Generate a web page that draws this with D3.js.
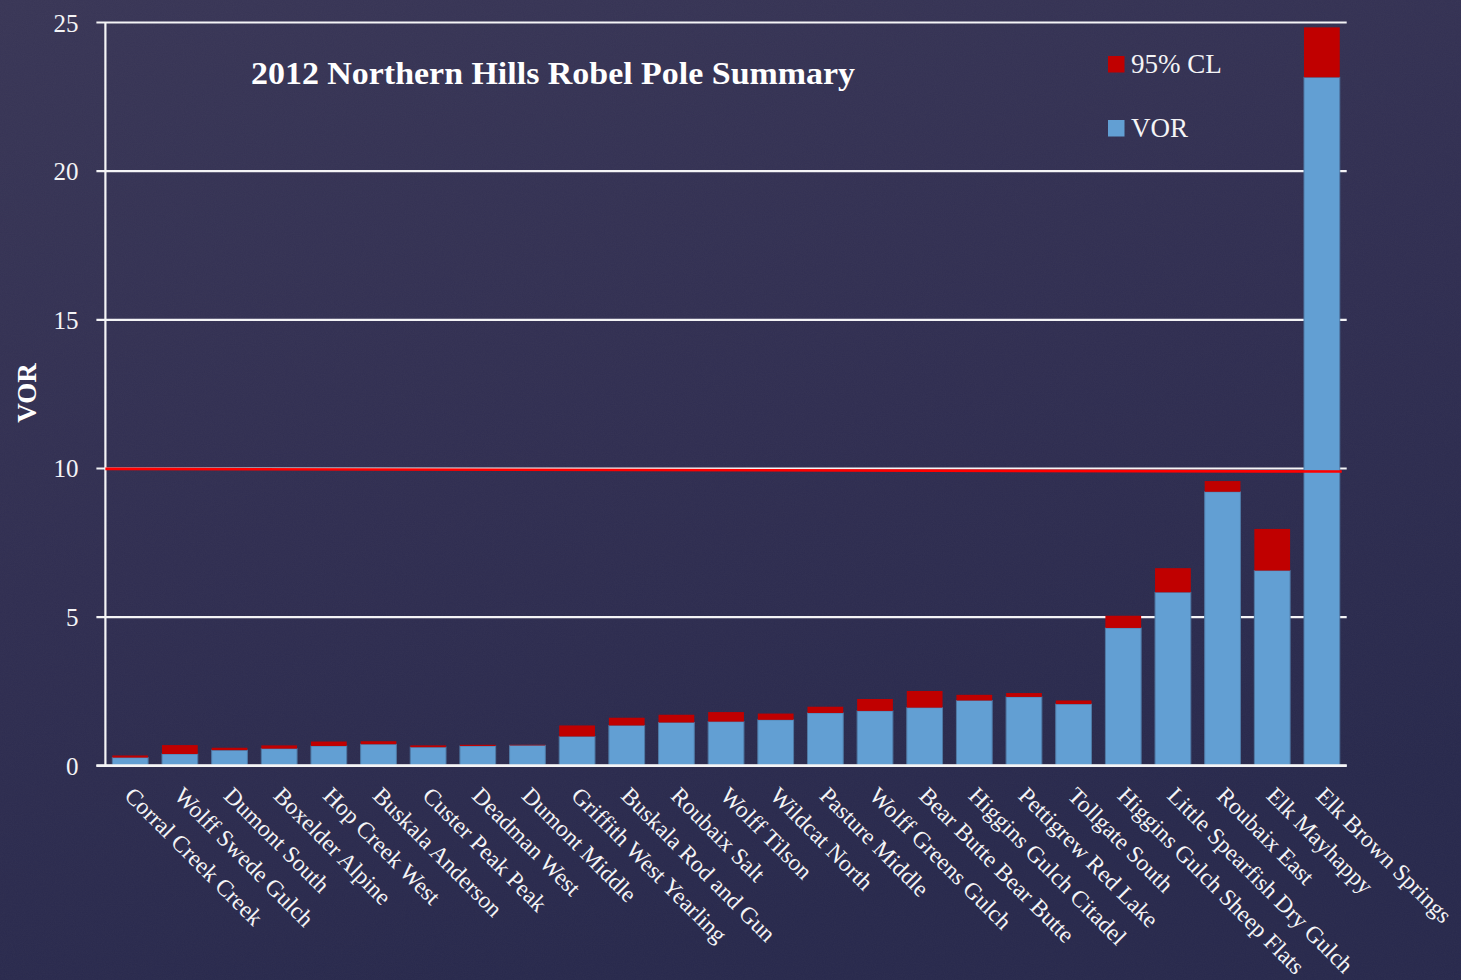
<!DOCTYPE html>
<html>
<head>
<meta charset="utf-8">
<title>2012 Northern Hills Robel Pole Summary</title>
<script src="https://cdn.jsdelivr.net/npm/d3@7/dist/d3.min.js"></script>
<style>
  html, body { margin: 0; padding: 0; background: #2f2d50; }
  svg { display: block; }
</style>
</head>
<body>
<div id="chart"></div>
<script>
// Sites, ordered as plotted
const sites = [
  "Corral Creek Creek", "Wolff Swede Gulch", "Dumont South", "Boxelder Alpine",
  "Hop Creek West", "Buskala Anderson", "Custer Peak Peak", "Deadman West",
  "Dumont Middle", "Griffith West Yearling", "Buskala Rod and Gun", "Roubaix Salt",
  "Wolff Tilson", "Wildcat North", "Pasture Middle", "Wolff Greens Gulch",
  "Bear Butte Bear Butte", "Higgins Gulch Citadel", "Pettigrew Red Lake",
  "Tollgate South", "Higgins Gulch Sheep Flats", "Little Spearfish Dry Gulch",
  "Roubaix East", "Elk Mayhappy", "Elk Brown Springs"
];

// Mean visual obstruction reading per site
const vor = [
  0.26, 0.38, 0.51, 0.56, 0.65, 0.71, 0.61, 0.65, 0.67, 0.97,
  1.34, 1.44, 1.47, 1.53, 1.76, 1.83, 1.94, 2.18, 2.30, 2.06,
  4.62, 5.82, 9.20, 6.55, 23.14
];

// Width of the 95% confidence limit stacked above each VOR bar
const cl95 = [
  0.07, 0.30, 0.08, 0.11, 0.15, 0.10, 0.06, 0.04, 0.02, 0.37,
  0.26, 0.26, 0.32, 0.21, 0.21, 0.40, 0.56, 0.19, 0.13, 0.12,
  0.41, 0.81, 0.36, 1.40, 1.68
];

const yTicks = [0, 5, 10, 15, 20, 25];

// Target line across the chart (value at first and last site)
const targetLine = [9.97, 9.88];

const seriesKeys = ["VOR", "95% CL"];
const seriesColors = { "VOR": "#629fd3", "95% CL": "#c00000" };
const legendOrder = ["95% CL", "VOR"];

const W = 1461, H = 980;
const plot = { left: 105.4, right: 1346.7, top: 22, bottom: 765.3 };

const svg = d3.select("#chart").append("svg")
  .attr("width", W).attr("height", H)
  .attr("viewBox", `0 0 ${W} ${H}`);

const defs = svg.append("defs");

// Slate chalkboard backdrop
const bg = defs.append("linearGradient").attr("id", "bgGrad")
  .attr("x1", "0").attr("y1", "0").attr("x2", "0.35").attr("y2", "1");
bg.append("stop").attr("offset", "0").attr("stop-color", "#393656");
bg.append("stop").attr("offset", "0.55").attr("stop-color", "#302e51");
bg.append("stop").attr("offset", "1").attr("stop-color", "#28294c");

const grain = defs.append("filter").attr("id", "grain")
  .attr("x", 0).attr("y", 0).attr("width", "100%").attr("height", "100%");
grain.append("feTurbulence").attr("type", "fractalNoise")
  .attr("baseFrequency", "0.9").attr("numOctaves", 2).attr("seed", 7).attr("result", "n");
grain.append("feColorMatrix").attr("in", "n").attr("type", "matrix")
  .attr("values", "0 0 0 0 0.85  0 0 0 0 0.85  0 0 0 0 0.95  0 0 0 0.05 0");

svg.append("rect").attr("width", W).attr("height", H).attr("fill", "url(#bgGrad)");
svg.append("rect").attr("width", W).attr("height", H).attr("filter", "url(#grain)").attr("opacity", 0.6);

// Scales
const x = d3.scaleBand()
  .domain(sites)
  .range([plot.left, plot.right])
  .paddingInner(0.28)
  .paddingOuter(0.14);

const y = d3.scaleLinear().domain([0, 25]).range([plot.bottom, plot.top]);

const serif = "'Liberation Serif', 'DejaVu Serif', serif";

// Horizontal gridlines with outward tick stubs
const yAxis = d3.axisLeft(y)
  .tickValues(yTicks)
  .tickSize(-(plot.right - plot.left))
  .tickSizeOuter(0)
  .tickPadding(0)
  .tickFormat(d3.format("d"));

const gy = svg.append("g")
  .attr("transform", `translate(${plot.left},0)`)
  .call(yAxis);
gy.select(".domain").remove();
gy.selectAll(".tick line")
  .attr("x1", -9)
  .attr("stroke", "#f4f4f6")
  .attr("stroke-width", 2.2);
gy.selectAll(".tick text")
  .attr("x", -27)
  .attr("dy", "0.36em")
  .attr("fill", "#f4f4f6")
  .style("font-family", serif)
  .style("font-size", "25px");

// Vertical axis line
svg.append("line")
  .attr("x1", plot.left).attr("x2", plot.left)
  .attr("y1", y(25)).attr("y2", y(0))
  .attr("stroke", "#f4f4f6").attr("stroke-width", 2.2);

// Stacked bars
const rows = sites.map((s, i) => ({ site: s, "VOR": vor[i], "95% CL": cl95[i] }));
const stacked = d3.stack().keys(seriesKeys)(rows);

svg.append("g").selectAll("g")
  .data(stacked)
  .join("g")
  .attr("fill", d => seriesColors[d.key])
  .attr("stroke", d => d.key === "VOR" ? "#4f7aa6" : "none")
  .attr("stroke-width", 1)
  .selectAll("rect")
  .data(d => d)
  .join("rect")
  .attr("x", d => x(d.data.site))
  .attr("width", x.bandwidth())
  .attr("y", d => y(d[1]))
  .attr("height", d => y(d[0]) - y(d[1]));

// Baseline drawn over bar bottoms
svg.append("line")
  .attr("x1", plot.left - 9).attr("x2", plot.right)
  .attr("y1", y(0)).attr("y2", y(0))
  .attr("stroke", "#f4f4f6").attr("stroke-width", 2.2);

// Target line at VOR 10
svg.append("line")
  .attr("x1", plot.left).attr("x2", x(sites[sites.length - 1]) + x.bandwidth() + 2)
  .attr("y1", y(targetLine[0])).attr("y2", y(targetLine[1]))
  .attr("stroke", "#ff0000").attr("stroke-width", 2.6);

// Category labels, slanted down to the right
svg.append("g").selectAll("text")
  .data(sites)
  .join("text")
  .attr("transform", d => `translate(${x(d) + x.bandwidth() / 2 - 7},797) rotate(45)`)
  .attr("fill", "#f4f4f6")
  .style("font-family", serif)
  .style("font-size", "23.5px")
  .text(d => d);

// Vertical axis title
svg.append("text")
  .attr("transform", "translate(36,393) rotate(-90)")
  .attr("text-anchor", "middle")
  .attr("fill", "#ffffff")
  .style("font-family", serif)
  .style("font-weight", "bold")
  .style("font-size", "27px")
  .text("VOR");

// Chart title
svg.append("text")
  .attr("x", 251).attr("y", 84)
  .attr("fill", "#ffffff")
  .attr("textLength", 604)
  .attr("lengthAdjust", "spacingAndGlyphs")
  .style("font-family", serif)
  .style("font-weight", "bold")
  .style("font-size", "31px")
  .text("2012 Northern Hills Robel Pole Summary");

// Legend
const legend = svg.append("g").selectAll("g")
  .data(legendOrder)
  .join("g")
  .attr("transform", (d, i) => `translate(1108,${56 + i * 64})`);
legend.append("rect")
  .attr("width", 16.5).attr("height", 16.5)
  .attr("fill", d => seriesColors[d]);
legend.append("text")
  .attr("x", 23).attr("y", 17)
  .attr("fill", "#f4f4f6")
  .style("font-family", serif)
  .style("font-size", "27px")
  .text(d => d);
</script>
</body>
</html>
